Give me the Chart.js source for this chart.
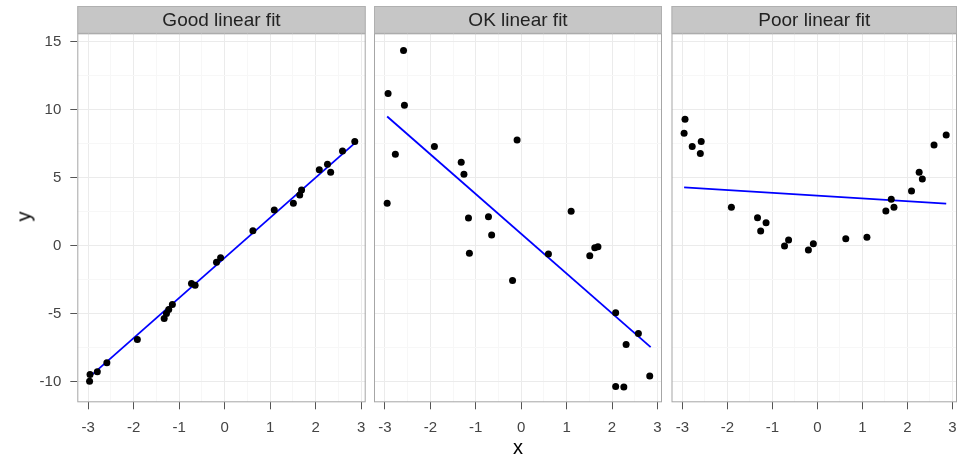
<!DOCTYPE html>
<html>
<head>
<meta charset="utf-8">
<script src="https://cdn.jsdelivr.net/npm/chart.js@4.4.1/dist/chart.umd.min.js"></script>
<style>
  html, body { margin: 0; padding: 0; background: #fff; overflow: hidden; }
  #wrap { position: relative; width: 959px; height: 459px; overflow: hidden; }
  canvas { position: absolute; top: 0; }
  .title { position: absolute; font-family: "Liberation Sans", Arial, sans-serif; font-size: 20px; color: #000; }
</style>
</head>
<body>
<div id="wrap">
  <canvas id="c1" width="370" height="459" style="left:0px"></canvas>
  <canvas id="c2" width="296" height="459" style="left:370px"></canvas>
  <canvas id="c3" width="294" height="459" style="left:667px"></canvas>
  <div class="title" style="left:513px; top:436px;">x</div>
  <div class="title" style="left:19px; top:205px; transform: rotate(-90deg);">y</div>
</div>
<script>
// panels
const panelNames = ['Good linear fit', 'OK linear fit', 'Poor linear fit'];

// good fit
const xGood = [-2.97, -2.96, -2.8, -2.59, -1.92, -1.33, -1.28, -1.23, -1.15, -0.73, -0.65, -0.18, -0.09, 0.62, 1.09, 1.51, 1.65, 1.69, 2.08, 2.26, 2.33, 2.59, 2.86];
const yGood = [-9.95, -9.46, -9.26, -8.6, -6.88, -5.34, -4.97, -4.68, -4.31, -2.77, -2.91, -1.22, -0.88, 1.1, 2.63, 3.12, 3.73, 4.1, 5.57, 5.98, 5.4, 6.96, 7.65];
// ok fit
const xOk = [-2.95, -2.93, -2.77, -2.59, -2.57, -1.91, -1.32, -1.26, -1.16, -1.14, -0.72, -0.65, -0.19, -0.09, 0.6, 1.1, 1.51, 1.62, 1.69, 2.08, 2.08, 2.26, 2.31, 2.58, 2.83];
const yOk = [3.12, 11.18, 6.72, 14.34, 10.32, 7.28, 6.13, 5.25, 2.04, -0.56, 2.13, 0.79, -2.55, 7.77, -0.61, 2.53, -0.73, -0.15, -0.07, -4.93, -10.34, -10.37, -7.25, -6.44, -9.56];
// poor fit
const xPoor = [-2.96, -2.94, -2.78, -2.6, -2.58, -1.91, -1.33, -1.26, -1.14, -0.73, -0.64, -0.2, -0.09, 0.63, 1.1, 1.52, 1.64, 1.7, 2.09, 2.26, 2.33, 2.59, 2.86];
const yPoor = [8.26, 9.29, 7.28, 6.77, 7.65, 2.82, 2.06, 1.08, 1.69, -0.02, 0.42, -0.32, 0.15, 0.51, 0.62, 2.55, 3.41, 2.82, 4.02, 5.39, 4.9, 7.4, 8.14];

// fitted lines (end points)
const fitXGood = [-2.97, 2.86], fitYGood = [-9.63, 7.53];
const fitXOk = [-2.95, 2.85], fitYOk = [9.49, -7.45];
const fitXPoor = [-2.96, 2.86], fitYPoor = [4.29, 3.09];

// ticks
const xMajor = [-3, -2, -1, 0, 1, 2, 3];
const xMinor = [-2.5, -1.5, -0.5, 0.5, 1.5, 2.5];
const yMajor = [-10, -5, 0, 5, 10, 15];
const yMinor = [-7.5, -2.5, 2.5, 7.5, 12.5];

const FONT = '"Liberation Sans", Arial, sans-serif';

const toPts = (xs, ys) => xs.map((x, i) => ({ x: x, y: ys[i] }));

const panelDeco = {
  id: 'panelDeco',
  beforeDraw(chart, args, opts) {
    const a = chart.chartArea;
    const c = chart.ctx;
    c.save();
    c.fillStyle = '#c6c6c6';
    c.fillRect(a.left, 6, a.right - a.left, a.top - 6);
    c.strokeStyle = '#b0b0b0';
    c.lineWidth = 1;
    c.strokeRect(a.left + 0.5, 6.5, a.right - a.left - 1, a.top - 6.5);
    c.fillStyle = '#222222';
    c.font = '19px ' + FONT;
    c.textAlign = 'center';
    c.textBaseline = 'middle';
    c.fillText(opts.label, (a.left + a.right) / 2, (a.top + 6) / 2 + 1);
    c.restore();
  },
  afterDraw(chart) {
    const a = chart.chartArea;
    const c = chart.ctx;
    c.save();
    c.strokeStyle = '#a6a6a6';
    c.lineWidth = 1;
    c.strokeRect(a.left + 0.5, a.top + 0.5, a.right - a.left - 1, a.bottom - a.top - 1);
    c.restore();
  }
};

function setTicks(major, minor) {
  return function(scale) {
    scale.ticks = major.concat(minor).sort((a, b) => a - b).map(v => ({ value: v }));
  };
}

function makePanel(id, label, xs, ys, fx, fy, yWidth, padRight) {
  const showY = yWidth > 30;
  new Chart(document.getElementById(id), {
    type: 'scatter',
    data: {
      datasets: [
        {
          data: toPts(xs, ys),
          pointRadius: 3.5,
          pointBackgroundColor: '#000',
          pointBorderWidth: 0
        },
        {
          type: 'line',
          data: toPts(fx, fy),
          borderColor: '#0000ff',
          borderWidth: 1.8,
          pointRadius: 0,
          fill: false
        }
      ]
    },
    options: {
      responsive: false,
      animation: false,
      devicePixelRatio: 1,
      layout: { padding: { top: 33.3, left: 0, right: padRight, bottom: 0 } },
      plugins: {
        legend: { display: false },
        tooltip: { enabled: false },
        panelDeco: { label: label }
      },
      scales: {
        x: {
          type: 'linear',
          min: -3.24,
          max: 3.1,
          afterBuildTicks: setTicks(xMajor, xMinor),
          afterFit: s => { s.height = 56.7; s.paddingLeft = 0; s.paddingRight = 0; },
          border: { display: false },
          grid: {
            color: c => Number.isInteger(c.tick.value) ? '#ebebeb' : '#f7f7f7',
            tickColor: c => Number.isInteger(c.tick.value) ? '#555555' : 'rgba(0,0,0,0)',
            tickLength: 7,
            lineWidth: 1
          },
          ticks: {
            autoSkip: false,
            maxRotation: 0,
            padding: 10,
            color: '#444444',
            font: { family: FONT, size: 15 },
            callback: v => Number.isInteger(v) ? String(v) : ''
          }
        },
        y: {
          type: 'linear',
          min: -11.5,
          max: 15.6,
          afterBuildTicks: setTicks(yMajor, yMinor),
          afterFit: s => { s.width = yWidth; s.paddingTop = 0; s.paddingBottom = 0; },
          border: { display: false },
          grid: {
            color: c => Number.isInteger(c.tick.value) ? '#ebebeb' : '#f7f7f7',
            tickColor: c => Number.isInteger(c.tick.value) ? '#555555' : 'rgba(0,0,0,0)',
            tickLength: 7,
            drawTicks: showY,
            lineWidth: 1
          },
          ticks: {
            display: showY,
            autoSkip: false,
            padding: 9,
            color: '#444444',
            font: { family: FONT, size: 15 },
            callback: v => Number.isInteger(v) ? String(v) : ''
          }
        }
      }
    },
    plugins: [panelDeco]
  });
}

makePanel('c1', panelNames[0], xGood, yGood, fitXGood, fitYGood, 77.3, 4.3);
makePanel('c2', panelNames[1], xOk, yOk, fitXOk, fitYOk, 4, 3.3);
makePanel('c3', panelNames[2], xPoor, yPoor, fitXPoor, fitYPoor, 4.5, 1);
</script>
</body>
</html>
